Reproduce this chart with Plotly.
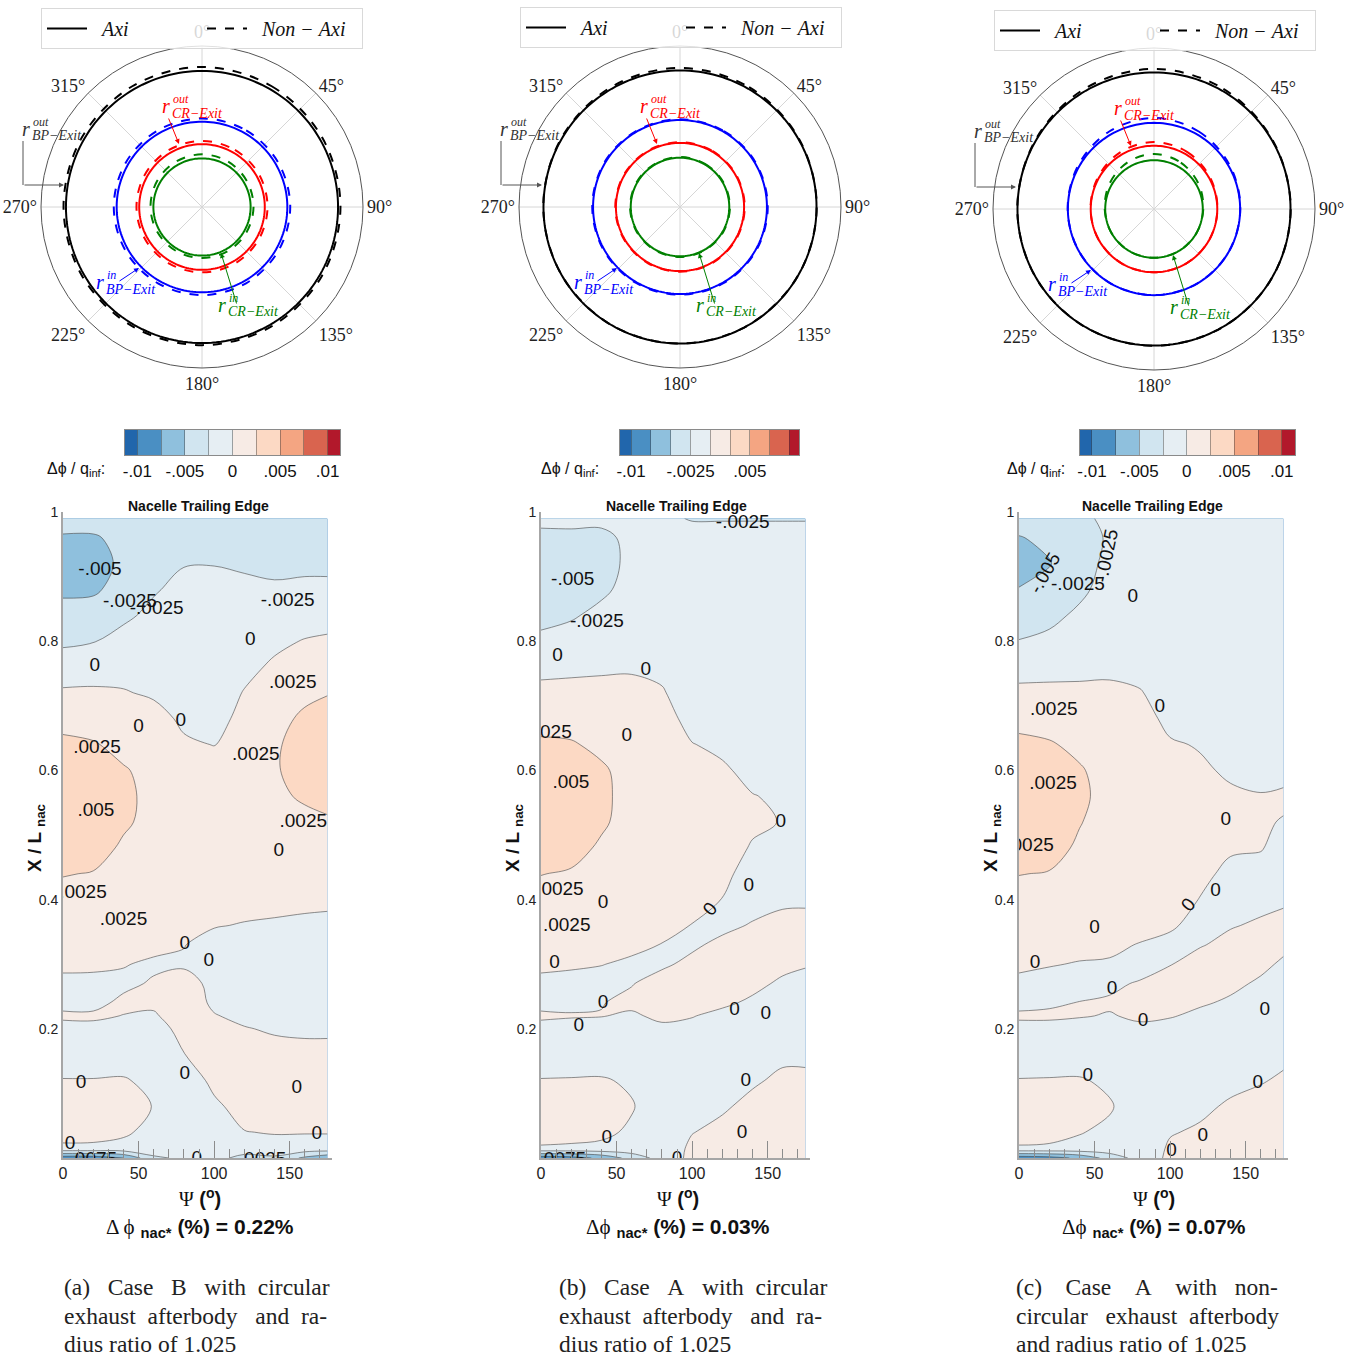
import numpy as np
import plotly.graph_objects as go

W, H = 1357, 1358


def fx(p):
    return p / W


def fy(p):
    return 1 - p / H


SANS = "Liberation Sans"
SERIF = "Liberation Serif"

# ---------------------------------------------------------------------------
# Nacelle pressure-coefficient differences  (dphi / q_inf, stored in 1e-4)
# rows: X/L_nac stations, columns: azimuth Psi (deg)
# ---------------------------------------------------------------------------
PSI_DEG = [0, 20, 40, 60, 80, 100, 120, 140, 160, 175]
X_OVER_L = [0, 0.015, 0.04, 0.08, 0.12, 0.16, 0.20, 0.22, 0.24, 0.27, 0.30, 0.33,
            0.36, 0.40, 0.44, 0.48, 0.52, 0.56, 0.60, 0.64, 0.68, 0.72, 0.76, 0.80,
            0.84, 0.88, 0.92, 0.96, 0.99]
DPHI_UNIT = 1e-4

DPHI_CASE_B_CIRC = [
    [-90, -90, -75, -30, -20, -15, -35, -30, -55, -70],
    [-4, -4, -6, -8, -8, -6, -8, -6, -8, -8],
    [8, 7, 3, -6, -10, -8, -0.5, 1, 1, 1],
    [12, 12, 12, -1, -12, -3, 6, 8, 8, 8],
    [1, 1, 2, -6, -10, 4, 10, 10, 10, 10],
    [-12, -12, -12, -12, -0.5, 9, 8, 6, 5, 5],
    [-6, -5, -5, -8, 6, 5, 1, -2, -3, -3],
    [3, 3, -0.5, -2, 9, 1, -4, -6, -7, -7],
    [-5, -5, 4, 3, 10, -3, -9, -9, -10, -10],
    [-6, -7, -4, 2, 6, -4, -12, -12, -12, -12],
    [5, 5, 1, -3, -2, -9, -12, -12, -12, -12],
    [10, 10, 7, 5, 0.5, -6, -10, -10, -10, -11],
    [13, 13, 11, 9, 5, 1, -1, -3, -6, -6],
    [18, 18, 15, 13, 9, 5, 6, 7, 7, 5],
    [26, 24, 18, 15, 11, 8, 10, 12, 14, 13],
    [36, 33, 22, 17, 12, 10, 12, 17, 19, 19],
    [44, 38, 28, 19, 12, 10, 13, 20, 21, 23],
    [44, 38, 29, 20, 11, 9, 13, 22, 27, 30],
    [36, 33, 27, 18, 8, 6, 12, 23, 33, 37],
    [32, 27, 18, 15, 3, -0.5, 9, 22, 34, 38],
    [14, 14, 12, 8, -4, -6, 5, 18, 29, 33],
    [2.5, 3, 1.5, -3, -10, -10, 1, 11, 20, 24],
    [-10, -9, -8, -10, -12, -12, -5, 3, 11, 14],
    [-30, -26, -18, -15, -13, -14, -10, -4, 1, 3],
    [-40, -38, -29, -20, -15, -17, -14, -12, -9, -8],
    [-55, -54, -40, -27, -19, -20, -20, -22, -20, -20],
    [-62, -62, -44, -33, -26, -25.5, -28, -30, -30, -30],
    [-52, -52, -45, -36, -32, -30, -33, -35, -36, -36],
    [-42, -42, -42, -35, -33, -32, -35, -36, -37, -37],
]

DPHI_CASE_A_CIRC = [
    [-90, -85, -70, -40, -15, 6, 8, 8, 8, 8],
    [-2, -3, -4, -8, -10, 3, 7, 8, 8, 8],
    [8, 7, 4, -3, -11, -0.5, 4, 8, 9, 9],
    [12, 12, 12, 1.5, -12, -6, -2, 4, 8, 8],
    [1, 1.5, 2, -3, -12, -10, -8, -2, 3, 3],
    [-12, -12, -12, -10, -10, -9, -10, -7, -3, -3],
    [-6, -5, -6, -6, -3, -3, -8, -7, -8, -8],
    [3, 1, 0.5, -2, 3, 0.5, -3, -5, -8, -8],
    [-5, -3, -0.5, 3, 6, 4, 2, -2, -7, -7],
    [-6, -7, -6, -0.6, 5, 7, 6, 3, -2, -4],
    [5, 3, 0.5, -3, -2, 3, 7, 6, 3, 1],
    [10, 9, 7, 4, -0.5, -2, 3, 5, 6, 5],
    [13, 13, 11, 8, 5, -0.5, -3, 1, 5, 4],
    [18, 17, 15, 12, 9, 6, -0.3, -5, -3, -2],
    [25.5, 23, 18, 14, 11, 9, 3, -5, -5, -6],
    [35, 32, 22, 16, 12, 10, 5, -1, -3, -6],
    [43, 38, 28, 17, 12, 10, 6, 2, -0.5, -6],
    [45, 40, 29, 18, 12, 9, 5, 0.5, -2, -6],
    [38, 34, 28, 17, 11, 6, 2, -4, -5, -7],
    [29, 27, 20, 15, 9, 0.5, -3, -7, -8, -8],
    [16, 16, 13, 11, 6, -5, -7, -9, -9, -9],
    [6, 7, 6, 5, 1.5, -9, -9, -10, -10, -10],
    [-6, -5, -3, -2, -4, -11, -10, -10, -11, -11],
    [-19, -14, -10, -8, -8, -12, -11, -11, -12, -12],
    [-33, -28, -18, -13, -11, -13, -12, -12, -13, -13],
    [-42, -38, -30, -16, -13, -14, -13, -13, -14, -14],
    [-44, -42, -36, -18, -15, -16, -15, -15, -16, -16],
    [-32, -31, -30, -20, -18, -19, -19, -19, -19, -19],
    [-18, -18, -20, -22, -22, -26, -26, -26, -26, -26],
]

DPHI_CASE_A_NONCIRC = [
    [-90, -85, -70, -40, -15, 5, 7, 8, 8, 8],
    [-2, -3, -5, -8, -10, 2, 6, 8, 8, 8],
    [8, 7, 1, -4, -11, -1, 2, 7, 8, 8],
    [12, 12, 12, 2, -12, -7, -3, 2, 5, 7],
    [1, 1.5, 2, -4, -12, -10, -8, -4, -1, 2],
    [-12, -12, -12, -11, -10, -10, -9, -8, -6, -3],
    [-6, -5, -6, -6, -3, -5, -8, -8, -8, -7],
    [3, 2.5, 1, -1, 2.5, 1, -3, -6, -8, -8],
    [-5, -2, 0.5, 2, 5, 5, 1.5, -2, -6, -8],
    [-6, -6, -6, -3, 1.5, 5, 5, 3, -2, -6],
    [5, 1, -1, -2, -7, -0.5, 6, 6, 3, -2],
    [10, 8, 5, 4, -1, -4, -1, 4, 5, 3],
    [13, 12, 10, 8, 7, 2, -5, -1, 2, 4],
    [18, 17, 14, 12, 10, 6, -0.5, -5, -4, -2],
    [25.5, 24, 18, 14, 12, 8, 3, -3, -3, -3],
    [35, 32, 22, 16, 13, 9, 5, 1.5, 0.5, -3],
    [43, 38, 26, 17, 13, 9, 6, 4, 1, -0.5],
    [45, 40, 29, 18, 12, 8, 5, 2, 0.5, 1.5],
    [39, 35, 27, 17, 11, 5, 2, -2, -3, -3],
    [31, 27, 20, 15, 9, 1.5, -1, -5, -5, -5],
    [17, 16, 12, 11, 6, -4, -5, -7, -7, -7],
    [6, 5, 4, 4, 1, -7, -7, -8, -8, -8],
    [-10, -7, -5, -4, -5, -9, -8, -8, -8, -8],
    [-24, -19, -13, -9, -8, -10, -9, -9, -9, -9],
    [-40, -32, -20, -12, -10, -11, -10, -10, -9, -9],
    [-49, -44, -31, -14, -12, -12, -11, -10, -10, -10],
    [-60, -51, -38, -17, -13, -13, -11, -11, -10, -10],
    [-51, -46, -39, -21, -14, -13, -12, -11, -10, -10],
    [-42, -40, -30, -20, -15, -14, -12, -11, -10, -10],
]

# contour levels and band colours
LEVEL_START, LEVEL_END, LEVEL_STEP = -0.01, 0.01, 0.0025
BAND_COLORS = ["#2166ac", "#4a8fc3", "#8fc0dd", "#d1e5f0", "#e6eef3",
               "#f7ebe5", "#fcd9c4", "#f4a582", "#d9644f", "#b2182b"]
BAND_EDGES = [-0.0125, -0.01, -0.0075, -0.005, -0.0025, 0, 0.0025, 0.005, 0.0075, 0.01, 0.0125]
BAND_MIDS = [-0.01125, -0.00875, -0.00625, -0.00375, -0.00125,
             0.00125, 0.00375, 0.00625, 0.00875, 0.01125]

# integrated values printed under each map
DPHI_NAC = ["0.22", "0.03", "0.07"]

# ---------------------------------------------------------------------------
# Exit-plane radii (normalised), axisymmetric vs non-axisymmetric
# order: r_BP-Exit^out, r_BP-Exit^in, r_CR-Exit^out, r_CR-Exit^in
# ---------------------------------------------------------------------------
RING_COLORS = ["#000000", "#0000ff", "#ff0000", "#008000"]
THETA_NODES = [0, 30, 60, 90, 120, 150, 180, 210, 240, 270, 300, 330]

AXI_R_A = [0.845, 0.530, 0.390, 0.302]
NONAXI_R_A = [
    [0.870, 0.866, 0.862, 0.860, 0.859, 0.858, 0.858, 0.858, 0.859, 0.860, 0.862, 0.866],
    [0.550, 0.549, 0.548, 0.548, 0.547, 0.547, 0.547, 0.547, 0.547, 0.548, 0.548, 0.549],
    [0.410, 0.409, 0.408, 0.407, 0.406, 0.406, 0.406, 0.406, 0.406, 0.407, 0.408, 0.409],
    [0.327, 0.325, 0.322, 0.320, 0.318, 0.317, 0.317, 0.317, 0.318, 0.320, 0.322, 0.325],
]
AXI_R_B = [0.848, 0.540, 0.398, 0.306]
NONAXI_R_B = [
    [0.864, 0.859, 0.852, 0.849, 0.848, 0.848, 0.848, 0.848, 0.848, 0.849, 0.852, 0.859],
    [0.545, 0.545, 0.545, 0.545, 0.545, 0.545, 0.545, 0.545, 0.545, 0.545, 0.545, 0.545],
    [0.402, 0.402, 0.402, 0.402, 0.402, 0.402, 0.402, 0.402, 0.402, 0.402, 0.402, 0.402],
    [0.310, 0.310, 0.310, 0.310, 0.310, 0.310, 0.310, 0.310, 0.310, 0.310, 0.310, 0.310],
]
AXI_R_C = [0.848, 0.535, 0.393, 0.303]
NONAXI_R_C = [
    [0.870, 0.862, 0.852, 0.849, 0.849, 0.849, 0.849, 0.849, 0.849, 0.849, 0.852, 0.862],
    [0.565, 0.556, 0.543, 0.536, 0.535, 0.535, 0.535, 0.535, 0.535, 0.536, 0.543, 0.556],
    [0.416, 0.410, 0.400, 0.394, 0.393, 0.393, 0.393, 0.393, 0.393, 0.394, 0.400, 0.410],
    [0.342, 0.333, 0.318, 0.306, 0.303, 0.303, 0.303, 0.303, 0.303, 0.306, 0.318, 0.333],
]

ANGLE_TICKS = [0, 45, 90, 135, 180, 225, 270, 315]

# contour labels: (text, psi, x/L)
LABELS_A = [
    ("-.005", 24.5, 0.910), ("-.0025", 44.3, 0.861), ("-.0025", 62, 0.850),
    ("-.0025", 148.7, 0.862), ("0", 124, 0.802), ("0", 21, 0.762),
    (".0025", 152, 0.735), ("0", 50, 0.667), ("0", 78, 0.676),
    (".0025", 22.5, 0.635), (".0025", 127.6, 0.624), (".005", 21.8, 0.536),
    (".0025", 159, 0.519), ("0", 142.8, 0.475), (".0025", 13.2, 0.410),
    (".0025", 40, 0.368), ("0", 80.6, 0.331), ("0", 96.5, 0.305),
    ("0", 12, 0.116), ("0", 80.6, 0.130), ("0", 154.7, 0.108),
    ("0", 4.6, 0.022), ("0", 168, 0.036), ("-.0075", 18, -0.004),
    ("-.0025", 130, -0.004), ("0", 88.5, -0.002),
]
LABELS_B = [
    ("-.0025", 133.5, 0.983), ("-.005", 21, 0.895), ("-.0025", 37, 0.830),
    ("0", 11, 0.776), ("0", 69.4, 0.755), (".0025", 4.6, 0.658),
    ("0", 56.8, 0.653), (".005", 19.8, 0.580), ("0", 158.6, 0.519),
    (".0025", 12.5, 0.415), ("0", 41, 0.395), ("0", 137.5, 0.421),
    (".0025", 17, 0.358), ("0", 9, 0.302), ("0", 41, 0.240),
    ("0", 25, 0.204), ("0", 128, 0.229), ("0", 148.7, 0.223),
    ("0", 135.5, 0.119), ("0", 133, 0.039), ("0", 43.6, 0.031),
    ("-.0075", 12, -0.004), ("0", 90, -0.002),
]
LABELS_C = [
    ("-.0025", 39, 0.887), ("0", 75.3, 0.868), (".0025", 23, 0.693),
    ("0", 93.2, 0.697), (".0025", 22.5, 0.579), ("0", 136.8, 0.523),
    (".0025", 7.3, 0.483), ("0", 130, 0.413), ("0", 50, 0.356),
    ("0", 10.6, 0.302), ("0", 61.5, 0.262), ("0", 82, 0.212),
    ("0", 162.6, 0.228), ("0", 45.6, 0.127), ("0", 158, 0.115),
    ("0", 121.6, 0.033), ("0", 101, 0.011),
]
ROT_LABELS_B = [("0", 111.7, 0.387, -50)]
ROT_LABELS_C = [("-.005", 17.2, 0.906, -60), ("-.0025", 58, 0.932, -78), ("0", 112, 0.392, -50)]

CB_TICKS_A = ([-0.01, -0.005, 0, 0.005, 0.01], ["-.01", "-.005", "0", ".005", ".01"])
CB_TICKS_B = ([-0.01, -0.0025, 0.005], ["-.01", "-.0025", ".005"])
CB_TICKS_C = CB_TICKS_A

NB = "\u00a0"
CAPTIONS = [
    [f"(a){NB*3}Case{NB*3}B{NB*3}with{NB*2}circular",
     f"exhaust{NB*2}afterbody{NB*3}and{NB*2}ra-", "dius ratio of 1.025"],
    [f"(b){NB*3}Case{NB*3}A{NB*3}with{NB*2}circular",
     f"exhaust{NB*2}afterbody{NB*3}and{NB*2}ra-", "dius ratio of 1.025"],
    [f"(c){NB*4}Case{NB*4}A{NB*4}with{NB*3}non-",
     f"circular{NB*3}exhaust{NB*2}afterbody", "and radius ratio of 1.025"],
]

# ---------------------------------------------------------------------------
# panel geometry (pixels)
# ---------------------------------------------------------------------------
PANELS = [
    dict(polar="polar", legend="legend", center=(202, 207), legend_xy=(41, 8),
         axi=AXI_R_A, nonaxi=NONAXI_R_A,
         cb_x=(125, 340), cb_range=(-0.0113, 0.0113), cb_ticks=CB_TICKS_A, cb_label_x=107,
         ax_x=(63, 332), data=DPHI_CASE_B_CIRC, labels=LABELS_A, rot=[],
         mid=198, dspace=True, cap_x=62),
    dict(polar="polar2", legend="legend2", center=(680, 207), legend_xy=(520, 7),
         axi=AXI_R_B, nonaxi=NONAXI_R_B,
         cb_x=(620, 799), cb_range=(-0.0114, 0.0112), cb_ticks=CB_TICKS_B, cb_label_x=601,
         ax_x=(541, 810), data=DPHI_CASE_A_CIRC, labels=LABELS_B, rot=ROT_LABELS_B,
         mid=676, dspace=False, cap_x=557),
    dict(polar="polar3", legend="legend3", center=(1154, 209), legend_xy=(994, 10),
         axi=AXI_R_C, nonaxi=NONAXI_R_C,
         cb_x=(1080, 1295), cb_range=(-0.01126, 0.0114), cb_ticks=CB_TICKS_C, cb_label_x=1067,
         ax_x=(1019, 1288), data=DPHI_CASE_A_NONCIRC, labels=LABELS_C, rot=ROT_LABELS_C,
         mid=1152, dspace=False, cap_x=1014),
]

POLAR_R_PX = 161
AX_TOP, AX_BOTTOM = 512, 1158
CB_TOP, CB_BOTTOM = 430, 455

contour_scale = [[i / (len(BAND_COLORS) - 1), c] for i, c in enumerate(BAND_COLORS)]
strip_scale = []
for i, c in enumerate(BAND_COLORS):
    strip_scale.append([i / len(BAND_COLORS), c])
    strip_scale.append([(i + 1) / len(BAND_COLORS), c])

fig = go.Figure()
layout = dict(width=W, height=H, margin=dict(l=0, r=0, t=0, b=0, autoexpand=False),
              paper_bgcolor="white", plot_bgcolor="white", showlegend=True)
annotations = []
shapes = []


def note(x_px, y_px, text, size, family=SANS, color="#111", xanchor="center",
         yanchor="middle", **kw):
    d = dict(x=fx(x_px), y=fy(y_px), xref="paper", yref="paper", text=text,
             showarrow=False, xanchor=xanchor, yanchor=yanchor,
             font=dict(family=family, size=size, color=color))
    d.update(kw)
    annotations.append(d)


circle_theta = np.arange(0, 361, 2)

for k, p in enumerate(PANELS):
    cx, cy = p["center"]
    # ---------------- polar exit-plane view ----------------
    for j in range(4):
        color = RING_COLORS[j]
        fig.add_trace(go.Scatterpolar(
            r=[p["axi"][j]] * len(circle_theta), theta=circle_theta, mode="lines",
            line=dict(color=color, width=2), subplot=p["polar"],
            name=f"{NB*2}<i>Axi</i>", legend=p["legend"], showlegend=(j == 0),
            hoverinfo="skip"))
        fig.add_trace(go.Scatterpolar(
            r=p["nonaxi"][j] + [p["nonaxi"][j][0]], theta=THETA_NODES + [360],
            mode="lines", line=dict(color=color, width=2, dash="dash", shape="spline"),
            subplot=p["polar"], name=f"{NB*2}<i>Non{NB}−{NB}Axi</i>", legend=p["legend"],
            showlegend=(j == 0), hoverinfo="skip"))

    layout[p["polar"]] = dict(
        domain=dict(x=[fx(cx - POLAR_R_PX), fx(cx + POLAR_R_PX)],
                    y=[fy(cy + POLAR_R_PX), fy(cy - POLAR_R_PX)]),
        bgcolor="white",
        angularaxis=dict(rotation=90, direction="clockwise", tickmode="array",
                         tickvals=ANGLE_TICKS, ticktext=[f"{a}°" for a in ANGLE_TICKS],
                         tickfont=dict(family=SERIF, size=18, color="#222"),
                         showline=True, linecolor="#555", linewidth=1,
                         showgrid=True, gridcolor="#d6d6d6", gridwidth=1, ticks=""),
        radialaxis=dict(range=[0, 1], visible=False),
    )
    lx, ly = p["legend_xy"]
    layout[p["legend"]] = dict(
        x=fx(lx), y=fy(ly), xanchor="left", yanchor="top", orientation="h",
        bgcolor="rgba(255,255,255,0.82)", bordercolor="#d9d9d9", borderwidth=1,
        font=dict(family=SERIF, size=20, color="#111"), itemwidth=40,
        entrywidth=105, entrywidthmode="pixels", tracegroupgap=0)

    # ring annotations: r with superscript / subscript, and pointer arrows
    ring_text = [
        ("out", "BP−Exit", "#333333", (-176, -78)),
        ("out", "CR−Exit", "#ff0000", (-36, -101)),
        ("in", "BP−Exit", "#0000ff", (-102, 75)),
        ("in", "CR−Exit", "#008000", (20, 98)),
    ]
    for sup, sub, col, (rx, ry) in ring_text:
        note(cx + rx, cy + ry, "<i>r</i>", 20, SERIF, col)
        note(cx + rx + 5, cy + ry - 7, f"<i>{sup}</i>", 12, SERIF, col, xanchor="left")
        note(cx + rx + 4, cy + ry + 7, f"<i>{sub}</i>", 14, SERIF, col, xanchor="left")
    arrows = [
        ("#555555", (-179, -22), (-138, -22)),
        ("#ff0000", (-34, -90), (-23, -63)),
        ("#0000ff", (-84, 75), (-63, 61)),
        ("#008000", (35, 98), (19, 46)),
    ]
    for col, (tx, ty), (hx, hy) in arrows:
        annotations.append(dict(x=fx(cx + hx), y=fy(cy + hy), xref="paper", yref="paper",
                                ax=tx - hx, ay=ty - hy, text="", showarrow=True,
                                arrowhead=2, arrowsize=1, arrowwidth=1, arrowcolor=col))
    shapes.append(dict(type="line", xref="paper", yref="paper",
                       x0=fx(cx - 179), x1=fx(cx - 179), y0=fy(cy - 66), y1=fy(cy - 22),
                       line=dict(color="#555555", width=1)))

    # ---------------- colour strip ----------------
    sx, sy = f"x{k + 4}", f"y{k + 4}"
    fig.add_trace(go.Heatmap(x=BAND_EDGES, y=[0, 1], z=[BAND_MIDS], colorscale=strip_scale,
                             zmin=BAND_EDGES[0], zmax=BAND_EDGES[-1], showscale=False,
                             xaxis=sx, yaxis=sy, hoverinfo="skip"))
    tv, tt = p["cb_ticks"]
    layout[f"xaxis{k + 4}"] = dict(
        domain=[fx(p["cb_x"][0]), fx(p["cb_x"][1])], range=list(p["cb_range"]),
        anchor=sy, tickmode="array", tickvals=tv, ticktext=tt, ticks="outside",
        ticklen=1, tickcolor="rgba(0,0,0,0)",
        tickfont=dict(family=SANS, size=17, color="#111"),
        showline=True, mirror=True, linecolor="#8a8a8a", linewidth=1,
        showgrid=False, zeroline=False,
        minor=dict(tickmode="array", tickvals=BAND_EDGES, ticks="inside", ticklen=25,
                   tickcolor="rgba(60,60,60,0.45)", tickwidth=1, showgrid=False))
    layout[f"yaxis{k + 4}"] = dict(
        domain=[fy(CB_BOTTOM), fy(CB_TOP)], range=[0, 1], anchor=sx,
        showline=True, mirror=True, linecolor="#8a8a8a", linewidth=1,
        showticklabels=False, ticks="", showgrid=False, zeroline=False)
    note(p["cb_label_x"], 469, "Δϕ / q<sub>inf</sub>:", 16, xanchor="right")

    # ---------------- contour map ----------------
    xa = "x" if k == 0 else f"x{k + 1}"
    ya = "y" if k == 0 else f"y{k + 1}"
    z = np.array(p["data"], dtype=float) * DPHI_UNIT
    fig.add_trace(go.Contour(
        x=PSI_DEG, y=X_OVER_L, z=z, autocontour=False,
        contours=dict(start=LEVEL_START, end=LEVEL_END, size=LEVEL_STEP,
                      coloring="fill", showlines=True),
        colorscale=contour_scale, showscale=False,
        line=dict(color="rgba(70,70,70,0.85)", width=0.7, smoothing=1.0),
        xaxis=xa, yaxis=ya, hoverinfo="skip"))
    lab = p["labels"]
    fig.add_trace(go.Scatter(
        x=[v[1] for v in lab], y=[v[2] for v in lab], text=[v[0] for v in lab],
        mode="text", textfont=dict(family=SANS, size=19, color="#111"),
        cliponaxis=True, showlegend=False, hoverinfo="skip", xaxis=xa, yaxis=ya))
    for t, x, y, ang in p["rot"]:
        annotations.append(dict(x=x, y=y, xref=xa, yref=ya, text=t, textangle=ang,
                                xanchor="center", yanchor="middle", showarrow=False,
                                font=dict(family=SANS, size=19, color="#111")))

    axkey = "xaxis" if k == 0 else f"xaxis{k + 1}"
    aykey = "yaxis" if k == 0 else f"yaxis{k + 1}"
    layout[axkey] = dict(
        domain=[fx(p["ax_x"][0]), fx(p["ax_x"][1])], range=[0, 178], anchor=ya,
        tickmode="array", tickvals=[0, 50, 100, 150], ticks="inside", ticklen=17,
        tickcolor="#8c8c8c", tickwidth=1,
        minor=dict(tickmode="array", tickvals=list(range(0, 180, 10)), ticks="inside",
                   ticklen=9, tickcolor="#8c8c8c", tickwidth=1, showgrid=False),
        tickfont=dict(family=SANS, size=16, color="#222"),
        showline=True, linecolor="#a6a6a6", linewidth=2, showgrid=False, zeroline=False)
    layout[aykey] = dict(
        domain=[fy(AX_BOTTOM), fy(AX_TOP)], range=[0, 1], anchor=xa,
        tickmode="array", tickvals=[0.2, 0.4, 0.6, 0.8, 1],
        ticktext=["0.2", "0.4", "0.6", "0.8", "1"], ticks="",
        tickfont=dict(family=SANS, size=14, color="#222"),
        showline=True, linecolor="#a6a6a6", linewidth=2, showgrid=False, zeroline=False)

    x0 = p["ax_x"][0]
    mid = p["mid"]
    note(mid, 506, "<b>Nacelle Trailing Edge</b>", 14)
    note(x0 - 27, 838, "<b>X / L <sub>nac</sub></b>", 19, textangle=-90)
    note(mid + 2, 1197,
         f"<span style='font-family:{SERIF}'>Ψ</span> <b>(<sup>o</sup>)</b>", 20)
    dl = "Δ ϕ" if p["dspace"] else "Δϕ"
    note(mid + 2, 1228,
         f"<span style='font-family:{SERIF}'>{dl}</span> <sub><b>nac*</b></sub> "
         f"<b>(%) = {DPHI_NAC[k]}%</b>", 21)
    for li, line in enumerate(CAPTIONS[k]):
        note(p["cap_x"], 1287 + 28.5 * li, line, 23.5, SERIF, "#222", xanchor="left")

layout["annotations"] = annotations
layout["shapes"] = shapes
fig.update_layout(**layout)
fig.write_html("out.html")
